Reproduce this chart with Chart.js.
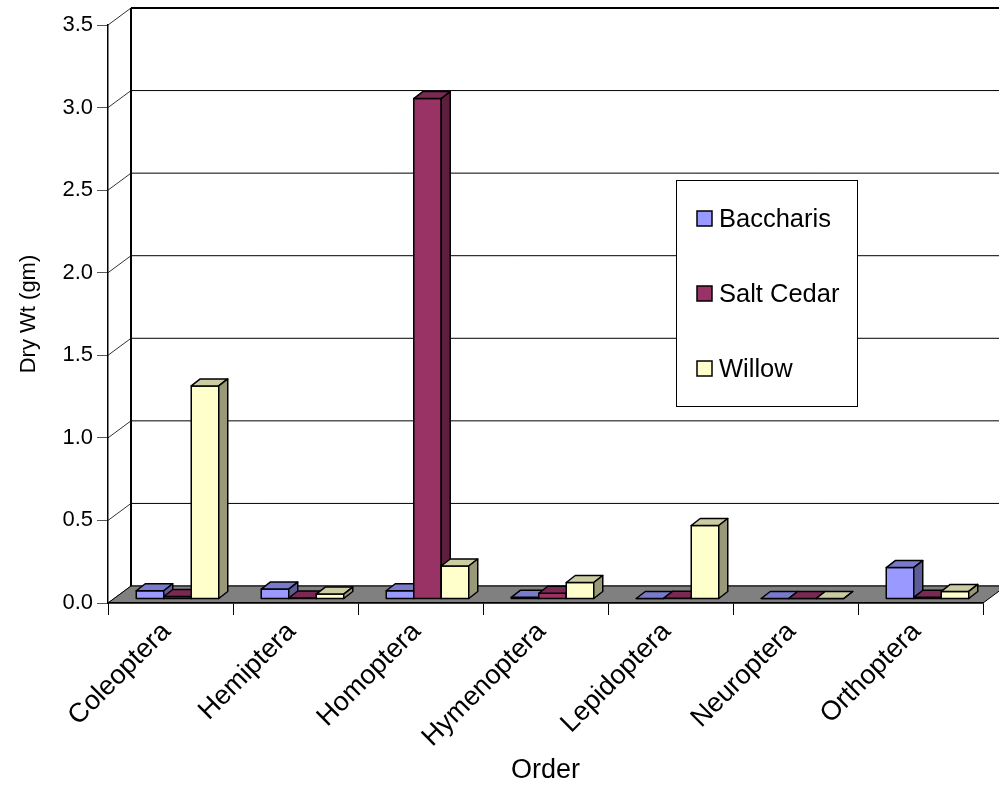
<!DOCTYPE html>
<html>
<head>
<meta charset="utf-8">
<title>Dry weight by order</title>
<script src="https://cdn.jsdelivr.net/npm/chart.js@4.4.1/dist/chart.umd.min.js"></script>
<style>
  body { margin: 0; background: #fff; }
  #wrap { width: 999px; height: 787px; position: relative; }
</style>
</head>
<body>
<div id="wrap"><canvas id="myChart"></canvas></div>
<script>
// insect orders and dry weight (gm) per host plant
const orders = ['Coleoptera', 'Hemiptera', 'Homoptera', 'Hymenoptera', 'Lepidoptera', 'Neuroptera', 'Orthoptera'];
const baccharis = [0.05, 0.06, 0.05, 0.01, 0.003, 0.003, 0.19];
const saltCedar = [0.015, 0.006, 3.03, 0.035, 0.005, 0.003, 0.01];
const willow = [1.29, 0.03, 0.2, 0.1, 0.445, 0.003, 0.046];
const yTicks = [0, 0.5, 1.0, 1.5, 2.0, 2.5, 3.0, 3.5];

const FONT = 'Liberation Sans, Arial, sans-serif';
const wall = { x: 23, y: -17 };   // depth of the floor / back wall
const shift = { x: 7, y: -4 };    // bars stand a little inside the floor
const depth = { x: 9, y: -7 };    // depth of a single bar

const shade = (hex, f) => {
  const n = parseInt(hex.slice(1), 16);
  const r = Math.round(((n >> 16) & 255) * f);
  const g = Math.round(((n >> 8) & 255) * f);
  const b = Math.round((n & 255) * f);
  return `rgb(${r},${g},${b})`;
}

const poly = (ctx, pts, fill) => {
  ctx.beginPath();
  ctx.moveTo(pts[0][0], pts[0][1]);
  pts.slice(1).forEach(p => ctx.lineTo(p[0], p[1]));
  ctx.closePath();
  if (fill) {
    ctx.fillStyle = fill;
    ctx.fill();
  }
  ctx.stroke();
}

// back wall, side wall and floor
const walls = {
  id: 'walls',
  beforeDraw(chart) {
    const { ctx, chartArea: a, scales: { y } } = chart;
    const W = chart.width;
    ctx.save();
    ctx.strokeStyle = '#000';
    yTicks.forEach(v => {
      const py = y.getPixelForValue(v);
      ctx.lineWidth = 1;
      ctx.strokeStyle = '#333';
      ctx.beginPath();
      ctx.moveTo(a.left, py);
      ctx.lineTo(a.left + wall.x, py + wall.y);
      ctx.stroke();
      ctx.strokeStyle = '#000';
      ctx.lineWidth = v === 3.5 ? 2 : 1;
      ctx.beginPath();
      ctx.moveTo(a.left + wall.x, py + wall.y);
      ctx.lineTo(W, py + wall.y);
      ctx.stroke();
    });
    // back wall left edge
    ctx.lineWidth = 2;
    ctx.beginPath();
    ctx.moveTo(a.left + wall.x, y.getPixelForValue(3.5) + wall.y);
    ctx.lineTo(a.left + wall.x, a.bottom + wall.y);
    ctx.stroke();
    // floor
    ctx.lineWidth = 1;
    ctx.strokeStyle = '#000';
    poly(ctx, [
      [a.left, a.bottom],
      [a.left + wall.x, a.bottom + wall.y],
      [a.right + wall.x, a.bottom + wall.y],
      [a.right, a.bottom]
    ], '#808080');
    ctx.restore();
  },
  beforeDatasetsDraw(chart) {
    const ctx = chart.ctx;
    ctx.save();
    ctx.lineWidth = 1.5;
    ctx.lineJoin = 'round';
    ctx.strokeStyle = '#000';
    chart.data.labels.forEach((_, i) => {
      chart.data.datasets.forEach((ds, d) => {
        const bar = chart.getDatasetMeta(d).data[i];
        const l = bar.x - bar.width / 2 + shift.x;
        const r = l + bar.width;
        const t = bar.y + shift.y;
        const b = bar.base + shift.y;
        const c = ds.backgroundColor;
        poly(ctx, [[l, t], [r, t], [r, b], [l, b]], c);
        poly(ctx, [[l, t], [l + depth.x, t + depth.y], [r + depth.x, t + depth.y], [r, t]], shade(c, 0.8));
        poly(ctx, [[r, t], [r + depth.x, t + depth.y], [r + depth.x, b + depth.y], [r, b]], shade(c, 0.6));
      });
    });
    ctx.restore();
    return false;
  },
  afterDraw(chart) {
    const ctx = chart.ctx;
    ctx.save();
    ctx.strokeStyle = '#000';
    ctx.lineWidth = 1;
    ctx.fillStyle = '#fff';
    ctx.fillRect(676.5, 180.5, 181, 226);
    ctx.strokeRect(676.5, 180.5, 181, 226);
    ctx.font = `25.5px ${FONT}`;
    ctx.textBaseline = 'middle';
    chart.data.datasets.forEach((ds, d) => {
      const cy = 219 + d * 75;
      ctx.fillStyle = ds.backgroundColor;
      ctx.lineWidth = 1.5;
      ctx.fillRect(697, cy - 8, 15, 15);
      ctx.strokeRect(697, cy - 8, 15, 15);
      ctx.fillStyle = '#000';
      ctx.fillText(ds.label, 719, cy + 1);
    });
    ctx.restore();
  }
};

const config = {
  type: 'bar',
  data: {
    labels: orders,
    datasets: [
      { label: 'Baccharis', data: baccharis, backgroundColor: '#9999ff' },
      { label: 'Salt Cedar', data: saltCedar, backgroundColor: '#993366' },
      { label: 'Willow', data: willow, backgroundColor: '#ffffcc' }
    ]
  },
  options: {
    responsive: true,
    maintainAspectRatio: false,
    devicePixelRatio: 1,
    animation: false,
    layout: { padding: { top: 25, right: 16, left: 0, bottom: 0 } },
    datasets: { bar: { categoryPercentage: 0.66, barPercentage: 1 } },
    plugins: { legend: { display: false }, tooltip: { enabled: false } },
    scales: {
      x: {
        grid: { drawOnChartArea: false, offset: true, tickLength: 12, color: '#000' },
        border: { color: '#000', width: 1.5 },
        ticks: { minRotation: 45, maxRotation: 45, color: '#000', padding: 1, labelOffset: -4, font: { family: FONT, size: 27 } },
        title: { display: true, text: 'Order', color: '#000', font: { family: FONT, size: 27 }, padding: { top: 0, bottom: 0 } },
        afterFit: s => { s.height = 184; }
      },
      y: {
        min: 0,
        max: 3.5,
        grid: { drawOnChartArea: false, tickLength: 11, color: '#555' },
        border: { color: '#000', width: 1.5 },
        ticks: { stepSize: 0.5, color: '#000', padding: 4, font: { family: FONT, size: 22 }, callback: v => v.toFixed(1) },
        title: { display: true, text: 'Dry Wt (gm)', color: '#000', font: { family: FONT, size: 22 }, padding: { top: 16, bottom: 4 } },
        afterFit: s => { s.width = 108; }
      }
    }
  },
  plugins: [walls]
};

const graph = new Chart(document.getElementById('myChart'), config);
</script>
</body>
</html>
